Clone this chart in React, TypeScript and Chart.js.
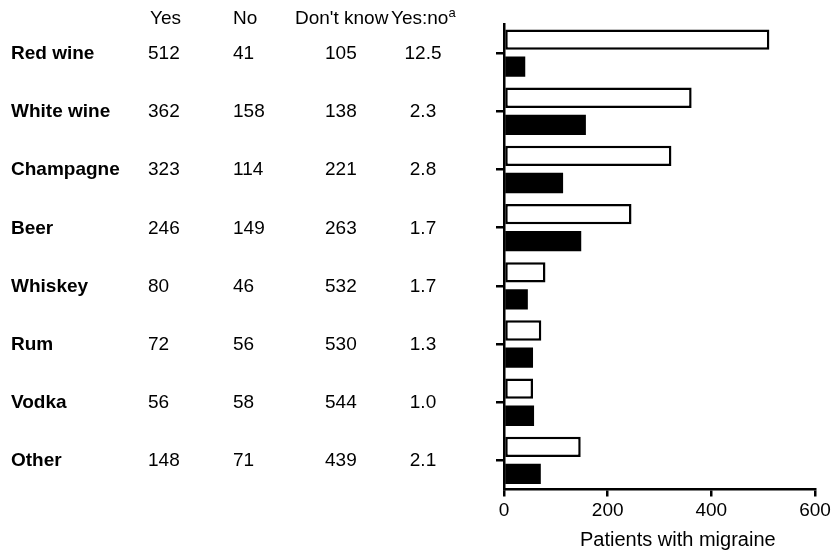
import React, { useEffect, useRef, useState } from "react";
import { Chart, registerables } from "chart.js";

Chart.register(...registerables);

const categories = ["Red wine", "White wine", "Champagne", "Beer", "Whiskey", "Rum", "Vodka", "Other"];
const yesValues = [512, 362, 323, 246, 80, 72, 56, 148];
const noValues = [41, 158, 114, 149, 46, 56, 58, 71];
const dontKnowValues = [105, 138, 221, 263, 532, 530, 544, 439];
const ratioLabels = ["12.5", "2.3", "2.8", "1.7", "1.7", "1.3", "1.0", "2.1"];
const columnHeaders = ["Yes", "No", "Don't know", "Yes:no"];
const headerSuperscript = "a";
const xAxisTitle = "Patients with migraine";
const xMin = 0;
const xMax = 600;
const xStep = 200;

const FONT = "'Liberation Sans', Arial, Helvetica, sans-serif";

export default function App() {
  const canvasRef = useRef<HTMLCanvasElement | null>(null);
  const [rows, setRows] = useState<number[]>([]);

  useEffect(() => {
    const canvas = canvasRef.current;
    if (!canvas) return;
    const chart = new Chart(canvas, {
      type: "bar",
      data: {
        labels: categories,
        datasets: [
          {
            label: "Yes",
            data: yesValues,
            backgroundColor: "#ffffff",
            borderColor: "#000000",
            borderWidth: 2.5,
            borderSkipped: false,
          },
          {
            label: "No",
            data: noValues,
            backgroundColor: "#000000",
            borderColor: "#000000",
            borderWidth: 0,
          },
        ],
      },
      options: {
        indexAxis: "y",
        responsive: false,
        animation: false,
        devicePixelRatio: 1,
        layout: { padding: { left: 496, top: 24, right: 16, bottom: 28 } },
        datasets: { bar: { barPercentage: 0.75, categoryPercentage: 0.93 } },
        plugins: { legend: { display: false }, tooltip: { enabled: false }, title: { display: false } },
        scales: {
          x: {
            type: "linear",
            min: xMin,
            max: xMax,
            ticks: { stepSize: xStep, color: "#000", font: { family: FONT, size: 19, lineHeight: 1.5 }, padding: 0 },
            grid: { drawOnChartArea: false, drawTicks: true, tickLength: 7, color: "#000", lineWidth: 2.5 },
            border: { display: true, color: "#000", width: 2.5 },
          },
          y: {
            type: "category",
            offset: true,
            ticks: { display: false },
            grid: { offset: false, drawOnChartArea: false, drawTicks: true, tickLength: 8, color: "#000", lineWidth: 2.5 },
            border: { display: true, color: "#000", width: 2.5 },
          },
        },
      },
    });
    const ys = categories.map((_, i) => chart.scales.y.getPixelForValue(i));
    setRows(ys);
    return () => chart.destroy();
  }, []);

  const textBase: React.CSSProperties = {
    position: "absolute",
    fontFamily: FONT,
    fontSize: 19,
    color: "#000",
    lineHeight: "22px",
    whiteSpace: "nowrap",
    transform: "translateY(-50%)",
  };

  return (
    <div style={{ position: "absolute", left: 0, top: 0, width: 831, height: 553, background: "#fff", overflow: "hidden" }}>
      <canvas ref={canvasRef} width={831} height={553} style={{ position: "absolute", left: 0, top: 0, width: 831, height: 553 }} />
      <div style={{ ...textBase, left: 150, top: 18 }}>{columnHeaders[0]}</div>
      <div style={{ ...textBase, left: 233, top: 18 }}>{columnHeaders[1]}</div>
      <div style={{ ...textBase, left: 295, top: 18 }}>{columnHeaders[2]}</div>
      <div style={{ ...textBase, left: 391, top: 18 }}>
        {columnHeaders[3]}
        <sup style={{ fontSize: 13, verticalAlign: "7px", lineHeight: 0 }}>{headerSuperscript}</sup>
      </div>
      {rows.map((y, i) => (
        <React.Fragment key={categories[i]}>
          <div style={{ ...textBase, left: 11, top: y, fontWeight: "bold" }}>{categories[i]}</div>
          <div style={{ ...textBase, left: 148, top: y }}>{String(yesValues[i])}</div>
          <div style={{ ...textBase, left: 233, top: y }}>{String(noValues[i])}</div>
          <div style={{ ...textBase, left: 325, top: y }}>{String(dontKnowValues[i])}</div>
          <div style={{ ...textBase, left: 423, top: y, transform: "translate(-50%, -50%)" }}>{ratioLabels[i]}</div>
        </React.Fragment>
      ))}
      <div style={{ ...textBase, left: 580, top: 539, fontSize: 20 }}>{xAxisTitle}</div>
    </div>
  );
}
